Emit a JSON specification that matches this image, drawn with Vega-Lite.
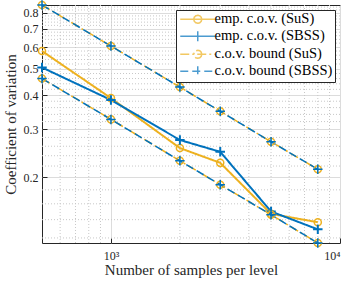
{
  "$schema": "https://vega.github.io/schema/vega-lite/v6.json",
  "width": 298,
  "height": 238,
  "autosize": {"type": "none"},
  "padding": {"left": 42, "top": 5, "right": 9, "bottom": 41},
  "background": "white",
  "config": {
    "view": {"stroke": "#262626", "strokeWidth": 1},
    "font": "Liberation Serif",
    "axis": {"labelFont": "Liberation Serif", "titleFont": "Liberation Serif", "labelColor": "#262626", "titleColor": "#262626", "tickColor": "#262626", "labelFontSize": 12, "titleFontSize": 15, "titleFontWeight": "normal", "domain": false}
  },
  "datasets": {
    "d": [
      {"N": 500, "cov": 0.58, "series": "emp. c.o.v. (SuS)", "part": "e"},
      {"N": 1000, "cov": 0.39, "series": "emp. c.o.v. (SuS)", "part": "e"},
      {"N": 2000, "cov": 0.256, "series": "emp. c.o.v. (SuS)", "part": "e"},
      {"N": 3000, "cov": 0.226, "series": "emp. c.o.v. (SuS)", "part": "e"},
      {"N": 5000, "cov": 0.147, "series": "emp. c.o.v. (SuS)", "part": "e"},
      {"N": 8000, "cov": 0.137, "series": "emp. c.o.v. (SuS)", "part": "e"},
      {"N": 500, "cov": 0.505, "series": "emp. c.o.v. (SBSS)", "part": "e"},
      {"N": 1000, "cov": 0.384, "series": "emp. c.o.v. (SBSS)", "part": "e"},
      {"N": 2000, "cov": 0.274, "series": "emp. c.o.v. (SBSS)", "part": "e"},
      {"N": 3000, "cov": 0.248, "series": "emp. c.o.v. (SBSS)", "part": "e"},
      {"N": 5000, "cov": 0.150, "series": "emp. c.o.v. (SBSS)", "part": "e"},
      {"N": 8000, "cov": 0.129, "series": "emp. c.o.v. (SBSS)", "part": "e"},
      {"N": 500, "cov": 0.855, "series": "c.o.v. bound (SuS)", "part": "upper"},
      {"N": 1000, "cov": 0.605, "series": "c.o.v. bound (SuS)", "part": "upper"},
      {"N": 2000, "cov": 0.428, "series": "c.o.v. bound (SuS)", "part": "upper"},
      {"N": 3000, "cov": 0.349, "series": "c.o.v. bound (SuS)", "part": "upper"},
      {"N": 5000, "cov": 0.270, "series": "c.o.v. bound (SuS)", "part": "upper"},
      {"N": 8000, "cov": 0.214, "series": "c.o.v. bound (SuS)", "part": "upper"},
      {"N": 500, "cov": 0.46, "series": "c.o.v. bound (SuS)", "part": "lower"},
      {"N": 1000, "cov": 0.326, "series": "c.o.v. bound (SuS)", "part": "lower"},
      {"N": 2000, "cov": 0.230, "series": "c.o.v. bound (SuS)", "part": "lower"},
      {"N": 3000, "cov": 0.188, "series": "c.o.v. bound (SuS)", "part": "lower"},
      {"N": 5000, "cov": 0.146, "series": "c.o.v. bound (SuS)", "part": "lower"},
      {"N": 8000, "cov": 0.115, "series": "c.o.v. bound (SuS)", "part": "lower"},
      {"N": 500, "cov": 0.855, "series": "c.o.v. bound (SBSS)", "part": "upper"},
      {"N": 1000, "cov": 0.605, "series": "c.o.v. bound (SBSS)", "part": "upper"},
      {"N": 2000, "cov": 0.428, "series": "c.o.v. bound (SBSS)", "part": "upper"},
      {"N": 3000, "cov": 0.349, "series": "c.o.v. bound (SBSS)", "part": "upper"},
      {"N": 5000, "cov": 0.270, "series": "c.o.v. bound (SBSS)", "part": "upper"},
      {"N": 8000, "cov": 0.214, "series": "c.o.v. bound (SBSS)", "part": "upper"},
      {"N": 500, "cov": 0.46, "series": "c.o.v. bound (SBSS)", "part": "lower"},
      {"N": 1000, "cov": 0.326, "series": "c.o.v. bound (SBSS)", "part": "lower"},
      {"N": 2000, "cov": 0.230, "series": "c.o.v. bound (SBSS)", "part": "lower"},
      {"N": 3000, "cov": 0.188, "series": "c.o.v. bound (SBSS)", "part": "lower"},
      {"N": 5000, "cov": 0.146, "series": "c.o.v. bound (SBSS)", "part": "lower"},
      {"N": 8000, "cov": 0.115, "series": "c.o.v. bound (SBSS)", "part": "lower"}
    ],
    "gx": [{"g": 600}, {"g": 700}, {"g": 800}, {"g": 900}, {"g": 2000}, {"g": 3000}, {"g": 4000}, {"g": 5000}, {"g": 6000}, {"g": 7000}, {"g": 8000}, {"g": 9000}],
    "gy": [{"g": 0.12}, {"g": 0.14}, {"g": 0.16}, {"g": 0.18}, {"g": 0.22}, {"g": 0.24}, {"g": 0.26}, {"g": 0.28}, {"g": 0.32}, {"g": 0.34}, {"g": 0.36}, {"g": 0.38}, {"g": 0.42}, {"g": 0.44}, {"g": 0.46}, {"g": 0.48}, {"g": 0.52}, {"g": 0.54}, {"g": 0.56}, {"g": 0.58}, {"g": 0.62}, {"g": 0.64}, {"g": 0.66}, {"g": 0.68}, {"g": 0.72}, {"g": 0.74}, {"g": 0.76}, {"g": 0.78}, {"g": 0.82}, {"g": 0.84}]
  },
  "layer": [
    {
      "data": {"name": "gx"},
      "mark": {"type": "rule", "color": "#c8c8c8", "strokeWidth": 1, "strokeDash": [1, 2]},
      "encoding": {
        "x": {"field": "g", "type": "quantitative", "scale": {"type": "log", "domain": [500, 10000], "nice": false},
          "axis": {"values": [1000, 10000], "grid": true, "gridColor": "#dcdcdc", "tickSize": -5, "labelPadding": 12, "labelExpr": "datum.value == 1000 ? '10³' : '10⁴'", "title": "Number of samples per level", "titlePadding": 1}}
      }
    },
    {
      "data": {"name": "gy"},
      "mark": {"type": "rule", "color": "#c8c8c8", "strokeWidth": 1, "strokeDash": [1, 2]},
      "encoding": {
        "y": {"field": "g", "type": "quantitative", "scale": {"type": "log", "domain": [0.115, 0.855], "nice": false},
          "axis": {"values": [0.2, 0.3, 0.4, 0.5, 0.6, 0.7, 0.8], "format": ".1f", "grid": true, "gridColor": "#dcdcdc", "tickSize": -5, "labelPadding": 9, "title": "Coefficient of variation", "titlePadding": 5}}
      }
    },
    {
      "data": {"name": "d"},
      "transform": [{"filter": "indexof(datum.series, 'emp') == 0"}],
      "mark": {"type": "line", "strokeWidth": 2},
      "encoding": {
        "x": {"field": "N", "type": "quantitative"},
        "y": {"field": "cov", "type": "quantitative"},
        "detail": {"field": "part"},
        "color": {"field": "series", "type": "nominal",
          "scale": {"domain": ["emp. c.o.v. (SuS)", "emp. c.o.v. (SBSS)", "c.o.v. bound (SuS)", "c.o.v. bound (SBSS)"], "range": ["#EDB120", "#0072BD", "#EDB120", "#0072BD"]},
          "legend": {"orient": "none", "legendX": 134, "legendY": 5, "title": null, "fillColor": "white", "strokeColor": "#262626", "padding": 2, "rowPadding": 1, "labelFont": "Liberation Serif", "labelFontSize": 14.5, "labelColor": "black", "symbolSize": 100, "labelOffset": 22}},
        "strokeDash": {"field": "series", "type": "nominal",
          "scale": {"domain": ["emp. c.o.v. (SuS)", "emp. c.o.v. (SBSS)", "c.o.v. bound (SuS)", "c.o.v. bound (SBSS)"], "range": [[1, 0], [1, 0], [9, 3, 2, 3], [8, 4]]}}
      }
    },
    {
      "data": {"name": "d"},
      "transform": [{"filter": "false"}],
      "mark": {"type": "point", "filled": false, "size": 100, "strokeWidth": 1.5},
      "encoding": {
        "x": {"field": "N", "type": "quantitative"},
        "y": {"field": "cov", "type": "quantitative"},
        "color": {"field": "series", "type": "nominal"},
        "strokeDash": {"field": "series", "type": "nominal"},
        "shape": {"field": "series", "type": "nominal",
          "scale": {"domain": ["emp. c.o.v. (SuS)", "emp. c.o.v. (SBSS)", "c.o.v. bound (SuS)", "c.o.v. bound (SBSS)"],
            "range": [
              "M-1,0H6M3.3,0L3.193,0.4L2.9,0.693L2.5,0.8L2.1,0.693L1.807,0.4L1.7,0L1.807,-0.4L2.1,-0.693L2.5,-0.8L2.9,-0.693L3.193,-0.4Z",
              "M-1,0H6M2.5,-1V1",
              "M-1,0H6M3.3,0L3.193,0.4L2.9,0.693L2.5,0.8L2.1,0.693L1.807,0.4L1.7,0L1.807,-0.4L2.1,-0.693L2.5,-0.8L2.9,-0.693L3.193,-0.4Z",
              "M-1,0H6M2.5,-1V1"
            ]}}
      }
    },
    {
      "data": {"name": "d"},
      "transform": [{"filter": "datum.series == 'emp. c.o.v. (SuS)'"}],
      "mark": {"type": "point", "shape": "circle", "filled": false, "color": "#EDB120", "size": 50, "strokeWidth": 1.5, "opacity": 1},
      "encoding": {
        "x": {"field": "N", "type": "quantitative"},
        "y": {"field": "cov", "type": "quantitative"}
      }
    },
    {
      "data": {"name": "d"},
      "transform": [{"filter": "datum.series == 'emp. c.o.v. (SBSS)'"}],
      "mark": {"type": "point", "shape": "M-1,0H1M0,-1V1", "filled": false, "color": "#0072BD", "size": 90, "strokeWidth": 2, "opacity": 1},
      "encoding": {
        "x": {"field": "N", "type": "quantitative"},
        "y": {"field": "cov", "type": "quantitative"}
      }
    },
    {
      "data": {"name": "d"},
      "transform": [{"filter": "indexof(datum.series, 'bound') >= 0"}],
      "mark": {"type": "line", "strokeWidth": 1.5},
      "encoding": {
        "x": {"field": "N", "type": "quantitative"},
        "y": {"field": "cov", "type": "quantitative"},
        "detail": {"field": "part"},
        "color": {"field": "series", "type": "nominal"},
        "strokeDash": {"field": "series", "type": "nominal"}
      }
    },
    {
      "data": {"name": "d"},
      "transform": [{"filter": "datum.series == 'c.o.v. bound (SuS)'"}],
      "mark": {"type": "point", "shape": "circle", "filled": false, "color": "#EDB120", "size": 50, "strokeWidth": 1.5, "opacity": 1},
      "encoding": {
        "x": {"field": "N", "type": "quantitative"},
        "y": {"field": "cov", "type": "quantitative"}
      }
    },
    {
      "data": {"name": "d"},
      "transform": [{"filter": "datum.series == 'c.o.v. bound (SBSS)'"}],
      "mark": {"type": "point", "shape": "M-1,0H1M0,-1V1", "filled": false, "color": "#0072BD", "size": 90, "strokeWidth": 1.5, "opacity": 1},
      "encoding": {
        "x": {"field": "N", "type": "quantitative"},
        "y": {"field": "cov", "type": "quantitative"}
      }
    }
  ]
}
